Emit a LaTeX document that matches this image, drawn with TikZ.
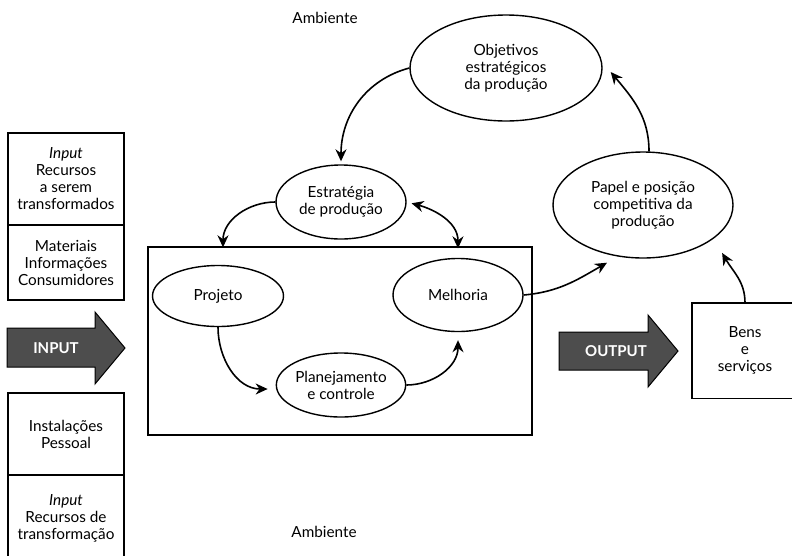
\documentclass[tikz,border=0pt]{standalone}
\usepackage{fontspec}
\setmainfont{Lato}
\usepackage{xcolor}
\definecolor{arrowgray}{RGB}{77,77,77}
\usetikzlibrary{arrows.meta,calc,shapes.geometric}
\tikzset{
  roundbox/.style={draw,line width=1.4pt,ellipse,align=center,inner sep=0pt},
  sidebox/.style={draw,line width=1.4pt,minimum width=116pt,align=center,inner sep=0pt},
  flow/.style={-{Stealth[length=12pt,width=11pt]},line width=1.6pt},
  twoflow/.style={{Stealth[length=12pt,width=11pt]}-{Stealth[length=12pt,width=11pt]},line width=1.6pt},
  bigarrow/.style={draw,line width=1pt,fill=arrowgray,line join=miter},
  arrowtext/.style={text=white,font=\fontsize{15}{17}\selectfont\bfseries}
}

\begin{document}
\begin{tikzpicture}[x=1pt,y=-1pt,font=\fontsize{15.3}{17}\selectfont]
\useasboundingbox (0,0) rectangle (792,555);
\clip (0,0) rectangle (792,555);
% ambiente
\node (ambtop) at (325,18) {Ambiente};
\node (ambbot) at (324,532) {Ambiente};
% recursos de entrada
\node[sidebox,minimum height=92pt] (transf) at (66,179) {\textit{Input}\\Recursos\\a serem\\transformados};
\node[sidebox,minimum height=75pt] (mater) at (66,262.5) {Materiais\\Informações\\Consumidores};
\node[sidebox,minimum height=82pt] (instal) at (66,434) {Instalações\\Pessoal};
\node[sidebox,minimum height=87pt] (transfo) at (66,518.5) {\textit{Input}\\Recursos de\\transformação};
% setas grandes
\draw[bigarrow] (7,328) -- (95,328) -- (95,312) -- (125,348) -- (95,384) -- (95,367) -- (7,367) -- cycle;
\node[arrowtext] (inlabel) at (56,348) {INPUT};
\draw[bigarrow] (559,332) -- (648,332) -- (648,315) -- (678,351) -- (648,387) -- (648,370) -- (559,370) -- cycle;
\node[arrowtext] (outlabel) at (616,351) {OUTPUT};
% processo
\node[draw,line width=1.4pt,minimum width=384pt,minimum height=188pt] (proc) at (340,341) {};
\node[roundbox,minimum width=131pt,minimum height=61pt] (projeto) at (218,296) {Projeto};
\node[roundbox,minimum width=130pt,minimum height=73pt] (melhoria) at (458,295) {Melhoria};
\node[roundbox,minimum width=129pt,minimum height=64pt] (planej) at (341,385) {Planejamento\\e controle};
\node[roundbox,minimum width=130pt,minimum height=74pt] (estrat) at (341,202) {Estratégia\\de produção};
\node[roundbox,minimum width=192pt,minimum height=106pt] (objet) at (506,68) {Objetivos\\estratégicos\\da produção};
\node[roundbox,minimum width=180pt,minimum height=106pt] (papel) at (643,205) {Papel e posição\\competitiva da\\produção};
\node[minimum width=106pt,minimum height=95pt,align=center] (bens) at (745,350.5) {Bens\\e\\serviços};
\draw[line width=1.4pt] (bens.north west) rectangle ($(bens.south east)+(30,0)$);
% ligacoes
\draw[flow] (objet.west) to[out=195,in=90] ($(estrat.north)+(0,-3)$);
\draw[flow] (estrat.west) to[out=180,in=90] ($(projeto.north |- proc.north)+(5,1)$);
\draw[twoflow,shorten <=5pt] (estrat.east) to[out=-15,in=90] ($(melhoria.north |- proc.north)+(0,2)$);
\draw[flow] (projeto.south) to[out=-90,in=180] ($(planej.west)+(-8,4)$);
\draw[flow] (planej.east) to[out=0,in=-90] ($(melhoria.south)+(0,8)$);
\draw[flow] (melhoria.east) to[out=5,in=210] ($(papel.south)+(-36,4)$);
\draw[flow] (bens.north) to[out=90,in=300] ($(papel.south east)+(15,10)$);
\draw[flow] ($(papel.north)+(6,0)$) to[out=90,in=310] ($(objet.east)+(8,4)$);
\end{tikzpicture}
\end{document}
